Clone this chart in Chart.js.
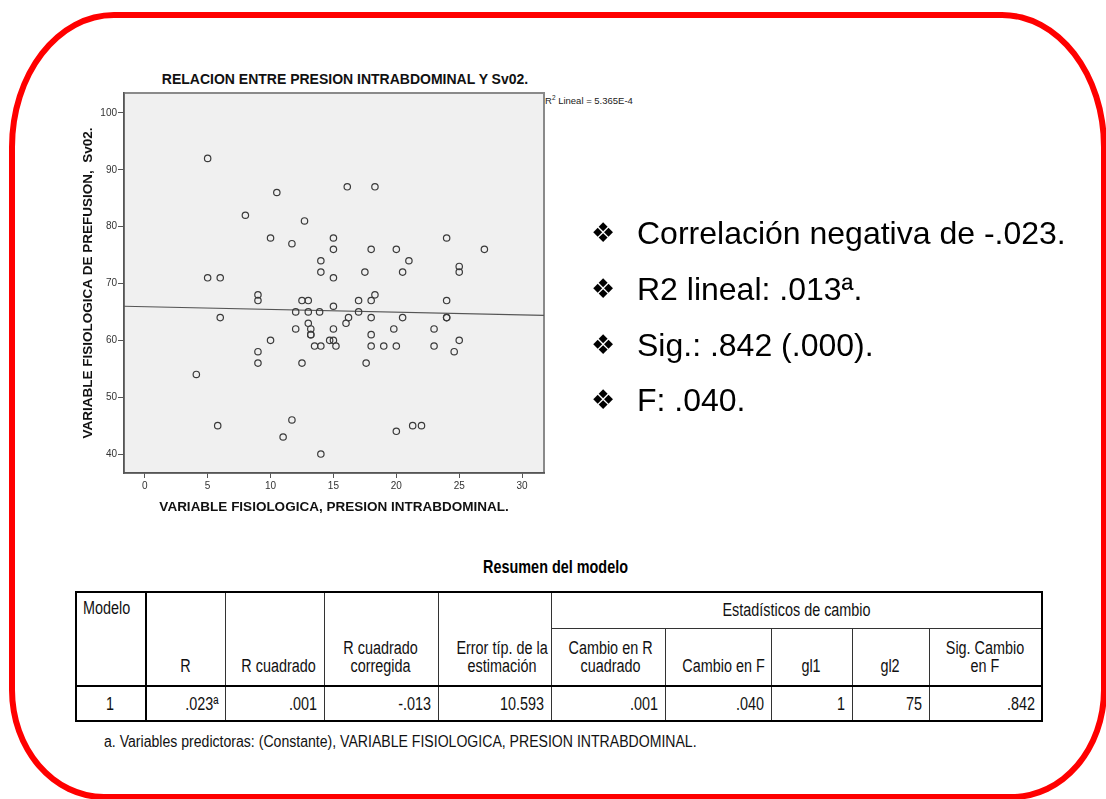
<!DOCTYPE html>
<html>
<head>
<meta charset="utf-8">
<script src="https://cdn.jsdelivr.net/npm/chart.js@4.4.2/dist/chart.umd.min.js"></script>
<style>
  html, body { margin: 0; padding: 0; background: #fff; }
  body { width: 1106px; height: 799px; position: relative; overflow: hidden; font-family: "Liberation Sans", Arial, sans-serif; }
  #frame { position: absolute; left: 9px; top: 12px; width: 1086px; height: 776px; border: 6px solid #ff0000; border-radius: 105px 105px 95px 95px / 135px 135px 110px 110px; }
  #chartTitle { position: absolute; left: 145px; top: 71px; width: 400px; text-align: center; font-weight: bold; font-size: 14px; color: #111; white-space: nowrap; }
  #r2 { position: absolute; left: 545px; top: 95px; font-size: 9.5px; color: #222; white-space: nowrap; }
  #r2 sup { font-size: 6.5px; vertical-align: 4px; line-height: 0; }
  #wrap { position: absolute; left: 60px; top: 60px; width: 600px; height: 470px; }
  .bul { position: absolute; left: 591px; font-size: 32px; color: #000; white-space: nowrap; line-height: 36px; }
  .bul span.g { font-family: "DejaVu Sans", sans-serif; font-size: 27px; display: inline-block; width: 46px; vertical-align: 2px; }
  .nar { font-family: "Liberation Sans Narrow", "Arial Narrow", "Liberation Sans", sans-serif; }
  .s { display: inline-block; white-space: nowrap; transform: scaleX(0.8); }
  #resumen { position: absolute; left: 406px; top: 557px; width: 300px; text-align: center; font-weight: bold; font-size: 18px; }
  #resumen .s { transform: scaleX(0.8); transform-origin: center; }
  table { position: absolute; left: 75px; top: 591px; width: 967px; table-layout: fixed; border-collapse: collapse; font-size: 18px; color: #111; border: 2.5px solid #000; }
  td { border: 1px solid #333; padding: 0 6px; line-height: 18px; overflow: visible; }
  td.hd { vertical-align: bottom; text-align: center; padding-bottom: 10px; }
  td.hd .s, td.c .s { transform-origin: center; }
  td.num { text-align: right; }
  td.num .s { transform-origin: right; }
  tr.data td { border-top: 2px solid #000; height: 33px; }
  td.m { border-right: 2.5px solid #000; }
  td.m .s { transform-origin: left; }
  #nota { position: absolute; left: 104px; top: 733px; font-size: 16px; color: #111; white-space: nowrap; }
  #nota .s { transform: scaleX(0.88); transform-origin: left; }
</style>
</head>
<body>
<div id="frame"></div>
<div id="chartTitle">RELACION ENTRE PRESION INTRABDOMINAL Y Sv02.</div>
<div id="r2">R<sup>2</sup> Lineal = 5.365E-4</div>
<div id="wrap"><canvas id="chart" width="600" height="470"></canvas></div>

<div class="bul" style="top:215px"><span class="g">❖</span>Correlación negativa de -.023.</div>
<div class="bul" style="top:271px"><span class="g">❖</span>R2 lineal: .013ª.</div>
<div class="bul" style="top:327px"><span class="g">❖</span>Sig.: .842 (.000).</div>
<div class="bul" style="top:382px"><span class="g">❖</span>F: .040.</div>

<div id="resumen" class="nar"><span class="s">Resumen del modelo</span></div>
<table class="nar">
  <colgroup>
    <col style="width:70px"><col style="width:79px"><col style="width:99px"><col style="width:114px"><col style="width:113px">
    <col style="width:114px"><col style="width:106px"><col style="width:81px"><col style="width:77px"><col style="width:113px">
  </colgroup>
  <tr style="height:36px">
    <td class="m" rowspan="2" style="vertical-align:top;padding-top:6px"><span class="s">Modelo</span></td>
    <td class="hd" rowspan="2"><span class="s">R</span></td>
    <td class="hd" rowspan="2"><span class="s">R cuadrado</span></td>
    <td class="hd" rowspan="2"><span class="s">R cuadrado<br>corregida</span></td>
    <td class="hd" rowspan="2"><span class="s">Error típ. de la<br>estimación</span></td>
    <td class="c" colspan="5" style="text-align:center"><span class="s">Estadísticos de cambio</span></td>
  </tr>
  <tr style="height:58px">
    <td class="hd"><span class="s">Cambio en R<br>cuadrado</span></td>
    <td class="hd"><span class="s">Cambio en F</span></td>
    <td class="hd"><span class="s">gl1</span></td>
    <td class="hd"><span class="s">gl2</span></td>
    <td class="hd"><span class="s">Sig. Cambio<br>en F</span></td>
  </tr>
  <tr class="data">
    <td class="m c" style="text-align:center"><span class="s">1</span></td>
    <td class="num"><span class="s">.023ª</span></td>
    <td class="num"><span class="s">.001</span></td>
    <td class="num"><span class="s">-.013</span></td>
    <td class="num"><span class="s">10.593</span></td>
    <td class="num"><span class="s">.001</span></td>
    <td class="num"><span class="s">.040</span></td>
    <td class="num"><span class="s">1</span></td>
    <td class="num"><span class="s">75</span></td>
    <td class="num"><span class="s">.842</span></td>
  </tr>
</table>
<div id="nota" class="nar"><span class="s">a. Variables predictoras: (Constante), VARIABLE FISIOLOGICA, PRESION INTRABDOMINAL.</span></div>

<script>
// presion intrabdominal (x) vs Sv02 (y)
const presion = [5, 10.5, 16.1, 18.3, 8, 12.7, 10, 11.7, 15, 15, 14, 14, 15, 5, 6,
  24, 18, 20, 27, 21, 17.5, 20.5, 25, 25, 9, 9, 12.5, 13, 17, 12, 13, 13.9, 15, 17, 6,
  16.2, 16, 13, 12, 13.2, 13.2, 13.2, 15, 10, 14.7, 15, 13.5, 14, 15.2, 9, 9, 12.5, 4.1,
  18, 18.3, 24, 18, 20.5, 24, 24, 19.8, 23, 18, 18, 19, 20, 23, 25, 24.6, 17.6,
  5.8, 11.7, 11, 14, 20, 21.3, 22];
const sv02 = [92, 86, 87, 87, 82, 81, 78, 77, 78, 76, 74, 72, 71, 71, 71,
  78, 76, 76, 76, 74, 72, 72, 73, 72, 68, 67, 67, 67, 67, 65, 65, 65, 66, 65, 64,
  64, 63, 63, 62, 62, 61, 61, 62, 60, 60, 60, 59, 59, 59, 58, 56, 56, 54,
  67, 68, 67, 64, 64, 64, 64, 62, 62, 61, 59, 59, 59, 59, 60, 58, 56,
  45, 46, 43, 40, 44, 45, 45];
// fitted line end points (R2 lineal = 5.365E-4)
const fitX = [-1.65, 31.74];
const fitY = [66.0, 64.4];
const xTicks = [0, 5, 10, 15, 20, 25, 30];
const yTicks = [40, 50, 60, 70, 80, 90, 100];

const plotBg = {
  id: 'plotBg',
  beforeDraw(chart) {
    const { ctx, chartArea: a } = chart;
    ctx.save();
    ctx.fillStyle = '#f0f0f0';
    ctx.fillRect(a.left, a.top, a.right - a.left, a.bottom - a.top);
    ctx.strokeStyle = '#8a8a8a';
    ctx.lineWidth = 2;
    ctx.strokeRect(a.left, a.top, a.right - a.left, a.bottom - a.top);
    ctx.restore();
  }
};

const tickFont = { family: '"Liberation Sans", Arial, sans-serif', size: 10 };
const titleFont = { family: '"Liberation Sans", Arial, sans-serif', size: 13.5, weight: 'bold' };

new Chart(document.getElementById('chart'), {
  type: 'scatter',
  data: {
    datasets: [{
      data: presion.map((x, i) => ({ x: x, y: sv02[i] })),
      pointRadius: 3.2,
      pointBorderWidth: 1.2,
      pointBorderColor: '#3a3a3a',
      pointBackgroundColor: 'rgba(0,0,0,0)'
    }, {
      type: 'line',
      data: fitX.map((x, i) => ({ x: x, y: fitY[i] })),
      borderColor: '#555',
      borderWidth: 1.2,
      pointRadius: 0,
      fill: false
    }]
  },
  options: {
    responsive: false,
    animation: false,
    layout: { padding: { top: 33, right: 116, bottom: 0, left: 0 } },
    plugins: { legend: { display: false }, tooltip: { enabled: false } },
    scales: {
      x: {
        type: 'linear',
        min: -1.65,
        max: 31.74,
        afterBuildTicks: (scale) => { scale.ticks = xTicks.map(v => ({ value: v })); },
        afterFit: (scale) => { scale.height = 57; },
        ticks: { font: tickFont, color: '#333', padding: 2, maxRotation: 0 },
        grid: { drawOnChartArea: false, tickLength: 5, color: '#555' },
        border: { color: '#555', width: 1.5 },
        title: { display: true, text: 'VARIABLE FISIOLOGICA, PRESION INTRABDOMINAL.', font: titleFont, color: '#111', padding: { top: 0, bottom: 15 } }
      },
      y: {
        min: 36.67,
        max: 103.5,
        afterBuildTicks: (scale) => { scale.ticks = yTicks.map(v => ({ value: v })); },
        afterFit: (scale) => { scale.width = 64; },
        ticks: { font: tickFont, color: '#333', padding: 1 },
        grid: { drawOnChartArea: false, tickLength: 6, color: '#555' },
        border: { color: '#555', width: 1.5 },
        title: { display: true, text: 'VARIABLE FISIOLOGICA DE PREFUSION,  Sv02.', font: titleFont, color: '#111', padding: { top: 20, bottom: 0 } }
      }
    }
  },
  plugins: [plotBg]
});
</script>
</body>
</html>
